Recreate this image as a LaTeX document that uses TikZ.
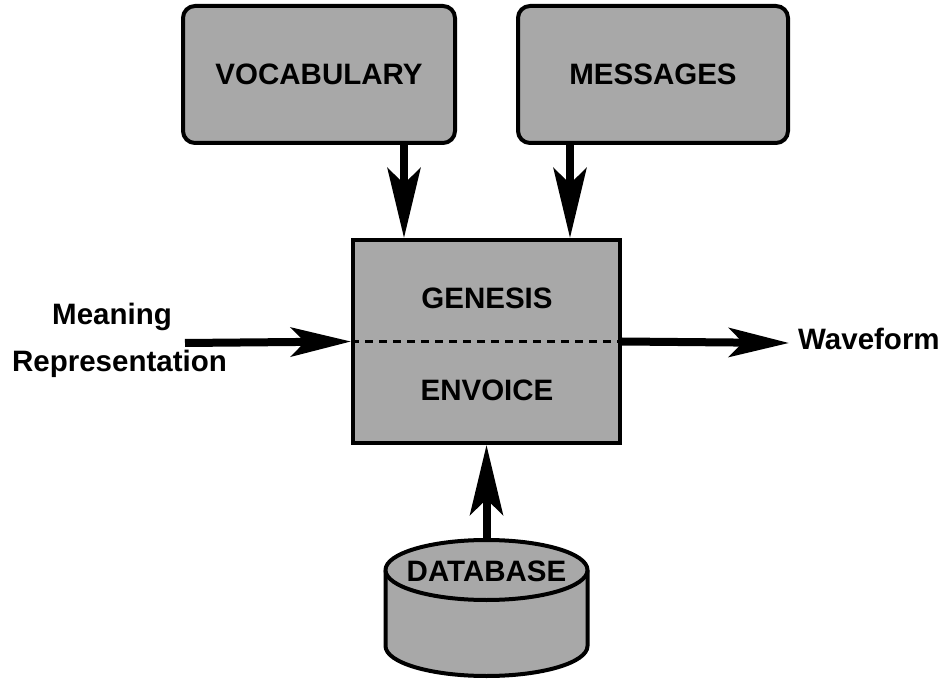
\documentclass[tikz,border=0pt]{standalone}
\usepackage{fontspec}
\setmainfont{Liberation Sans}
\usetikzlibrary{arrows.meta}
\definecolor{boxgray}{gray}{0.66}
\tikzset{
  lbl/.style={font=\bfseries\fontsize{29.5}{34}\selectfont, inner sep=0pt},
  roundbox/.style={draw=black, line width=4pt, fill=boxgray, rounded corners=12pt, minimum height=137pt},
  mainbox/.style={draw=black, line width=4pt, fill=boxgray, minimum width=267pt, minimum height=203pt},
  harr/.style={line width=8pt, -{Stealth[length=60pt,width=29pt,inset=14pt]}},
  varr/.style={line width=8pt, -{Stealth[length=70pt,width=33pt,inset=16pt]}},
  divider/.style={line width=2.5pt, dash pattern=on 8pt off 6pt},
  dbshape/.style={draw=black, line width=4pt, fill=boxgray}
}
\begin{document}
\begin{tikzpicture}[x=1pt,y=1pt]
\useasboundingbox (0,0) rectangle (947,678);
% top boxes
\node[roundbox, minimum width=272pt] (vocab) at (319,603.5) {};
\node[lbl] (vocabt) at (319,603.5) {VOCABULARY};
\node[roundbox, minimum width=270pt] (msg) at (653,603.5) {};
\node[lbl] (msgt) at (653,603.5) {MESSAGES};
% main box
\node[mainbox] (gen) at (486.5,336.5) {};
\draw[divider] (gen.west) -- (gen.east);
\node[lbl] (genesis) at (487,380) {GENESIS};
\node[lbl] (envoice) at (487,288) {ENVOICE};
% database cylinder
\filldraw[dbshape] (385.5,108) -- (385.5,32) arc[start angle=180,end angle=360,x radius=101,y radius=30] -- (587.5,108) arc[start angle=0,end angle=180,x radius=101,y radius=30] -- cycle;
\draw[dbshape] (385.5,108) arc[start angle=180,end angle=360,x radius=101,y radius=30];
\coordinate (dbtop) at (486.5,138);
\node[lbl] (db) at (486.5,107) {DATABASE};
% side labels
\node[lbl, anchor=base] (mean) at (112,353) {Meaning};
\node[lbl, anchor=base] (repr) at (119.5,306) {Representation};
\node[lbl, anchor=base west] (wave) at (798,328) {Waveform};
\coordinate (intail) at (185,335);
\coordinate (outtip) at (789,335);
% connectors
\draw[varr] (vocab.south -| 404,0) -- (gen.north -| 404,0);
\draw[varr] (msg.south -| 570,0) -- (gen.north -| 570,0);
\draw[varr] (dbtop) -- (gen.south);
\draw[harr] (intail) -- (gen.west);
\draw[harr] (gen.east) -- (outtip);
\end{tikzpicture}
\end{document}
